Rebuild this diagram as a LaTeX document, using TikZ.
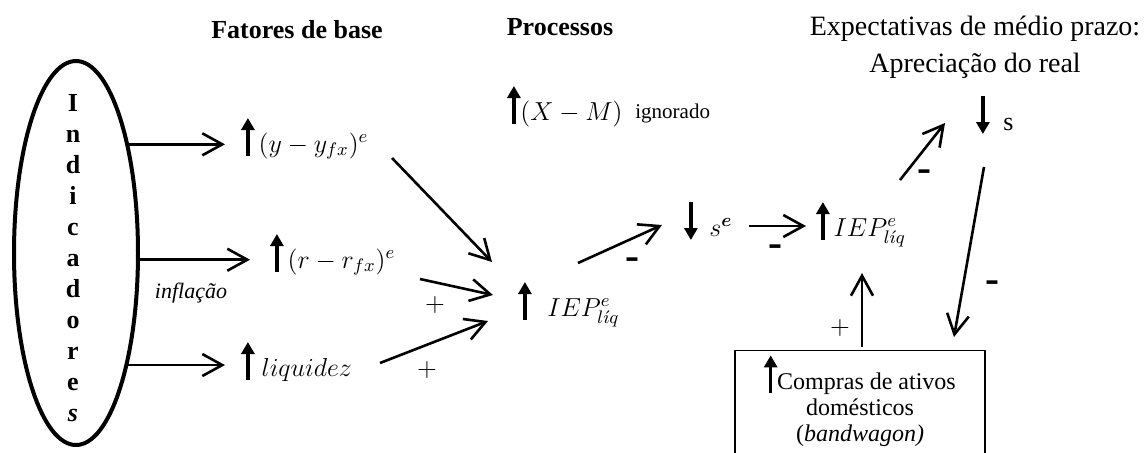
\RequirePackage{fix-cm}
\documentclass[tikz,border=0pt]{standalone}
\usepackage{amsmath, amssymb}
\usepackage{fontspec}
\setmainfont{Liberation Serif}
\usetikzlibrary{arrows.meta,shapes.geometric,positioning}

\newcommand{\upar}{\tikz[baseline=0pt]\draw[line width=1.8pt,-{Triangle[length=6pt,width=6.5pt]}] (0pt,-2pt) -- (0pt,17pt);}
\newcommand{\dnar}{\tikz[baseline=0pt]\draw[line width=1.8pt,-{Triangle[length=6pt,width=6.5pt]}] (0pt,17pt) -- (0pt,-2pt);}

\begin{document}
\begin{tikzpicture}[x=0.5pt,y=-0.5pt,
  conn/.style={line width=1.3pt,-{Straight Barb[length=10pt,width=11pt]}},
  term/.style={inner sep=0pt,anchor=base west,font=\fontsize{13}{16}\selectfont},
  head/.style={font=\fontsize{13}{16}\selectfont\bfseries},
  plus/.style={font=\fontsize{13}{16}\selectfont},
  minus/.style={font=\fontsize{21}{21}\selectfont\bfseries}]
\useasboundingbox (0,0) rectangle (1147,452);

% titulos
\node[head] (base) at (297,30) {Fatores de base};
\node[head] (proc) at (560,27) {Processos};
\node[align=center,font=\fontsize{14}{18.5}\selectfont] (expec) at (975,47) {Expectativas de médio prazo:\\Apreciação do real};

% indicadores
\node[ellipse,draw,line width=2pt,minimum width=62pt,minimum height=192pt,inner sep=0pt] (ind) at (76,253) {};
\node[align=center,inner sep=0pt,font=\fontsize{13}{15.5}\selectfont\bfseries] (indtxt) at (73,258) {I\\n\\d\\i\\c\\a\\d\\o\\r\\e\\\textit{s}};

% fatores
\node[term] (yfx) at (241,152) {\upar$\,(y-y_{fx})^e$};
\node[term] (rfx) at (270,268) {\upar$\,(r-r_{fx})^e$};
\node[term] (liq) at (241,376) {\upar$\;liquidez$};
\node[font=\fontsize{11}{13}\selectfont\itshape] (infl) at (191,293) {inflação};

% processos
\node[term] (xm) at (507,120) {\upar$(X-M)$};
\node[term,font=\fontsize{10.5}{12}\selectfont] (ign) at (635,118) {ignorado};
\node[term] (iep1) at (518,316) {\upar\hspace{8pt}$IEP^e_{l\acute{\imath}q}$};
\node[term] (se) at (684,236) {\dnar\hspace{6pt}$s^{\boldsymbol{e}}$};
\node[term] (iep2) at (816,236) {\upar$\,IEP^e_{l\acute{\imath}q}$};
\node[term] (sreal) at (976,130) {\dnar\hspace{7pt}s};
\node[draw,line width=0.6pt,anchor=north,minimum width=125pt,inner sep=1.5pt,text depth=12pt,align=center,font=\fontsize{12}{13}\selectfont] (buy) at (860,350) {\upar Compras de ativos\\domésticos\\(\textit{bandwagon)}};

% setas
\draw[conn,shorten >=8pt] (ind.64.5) -- (ind.64.5 -| yfx.west);
\draw[conn,shorten >=10pt] (ind.-6) -- (ind.-6 -| rfx.west);
\draw[conn,shorten >=8pt] (ind.-65) -- (ind.-65 -| liq.west);
\draw[conn] ([shift={(151,6)}]yfx.base west) -- ([shift={(-26,-54)}]iep1.base west);
\draw[conn] ([shift={(150,11)}]rfx.base west) -- ([shift={(-25,-21)}]iep1.base west);
\draw[conn] ([shift={(139,-13)}]liq.base west) -- ([shift={(-30,5)}]iep1.base west);
\draw[conn] ([shift={(60,-53)}]iep1.base west) -- ([shift={(-22,-11)}]se.base west);
\draw[conn] ([shift={(65,-10)}]se.base west) -- ([shift={(-10,-10)}]iep2.base west);
\draw[conn] ([shift={(84,-56)}]iep2.base west) -- ([shift={(-31,-7)}]sreal.base west);
\draw[conn] ([shift={(8,37)}]sreal.base west) -- ([shift={(94,-13)}]buy.north);
\draw[conn] ([shift={(2,-3)}]buy.north) -- ([shift={(46,37)}]iep2.base west);

% sinais
\node[plus] (p1) at (435,305) {$+$};
\node[plus] (p2) at (427,370) {$+$};
\node[plus] (p3) at (840,328) {$+$};
\node[minus] (m1) at (632,264) {-};
\node[minus] (m2) at (775,251) {-};
\node[minus] (m3) at (924,176) {-};
\node[minus] (m4) at (992,287) {-};
\end{tikzpicture}
\end{document}
